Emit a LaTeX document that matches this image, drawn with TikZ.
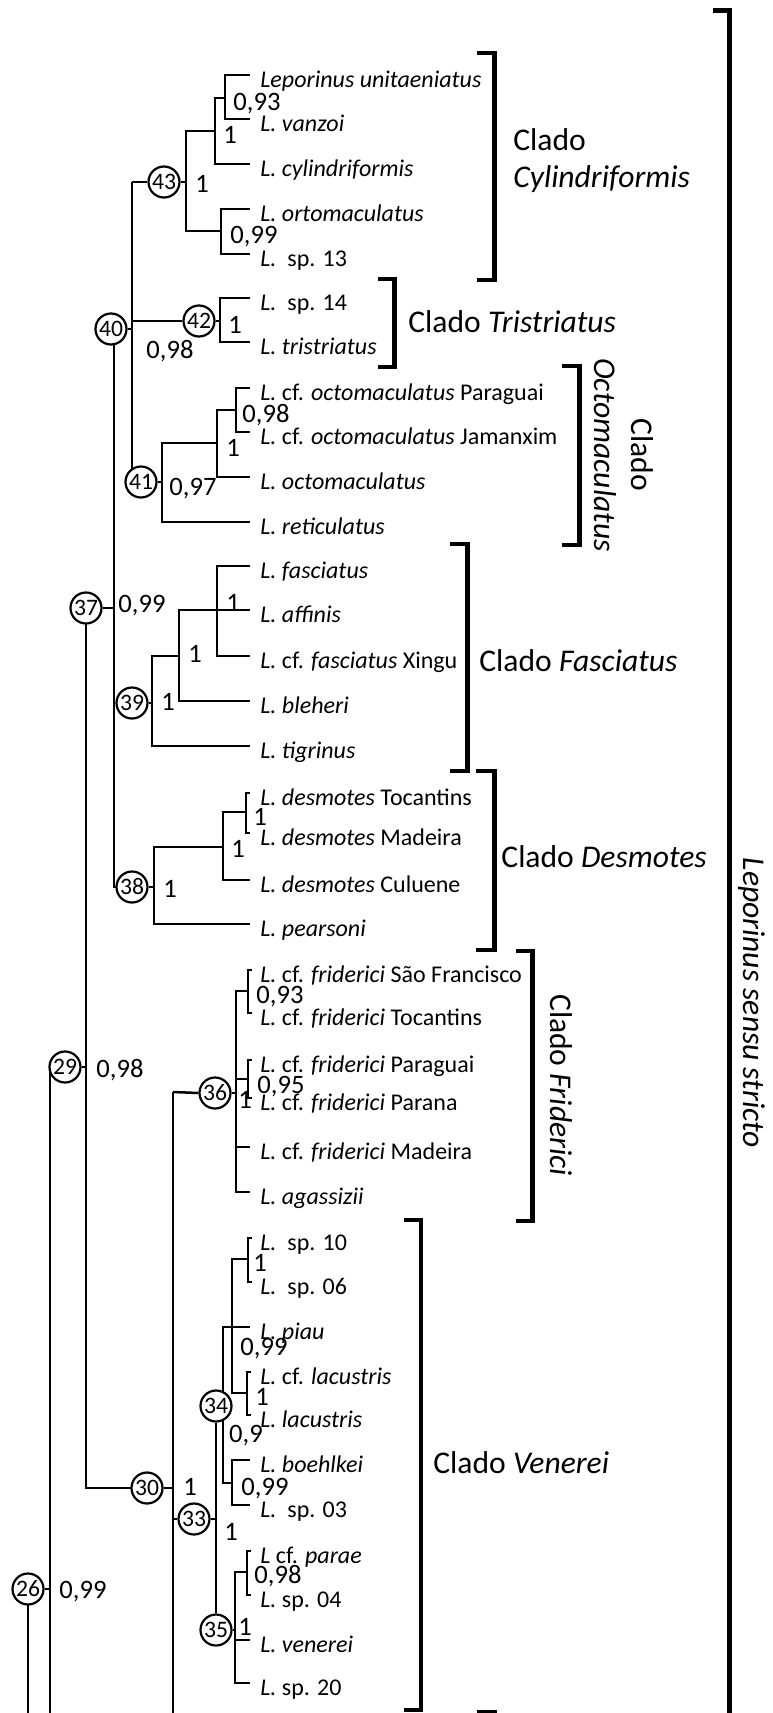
\documentclass[tikz,border=0pt]{standalone}
\usepackage{fontspec}
\setmainfont{Carlito}
\tikzset{
  br/.style={line width=1.25pt},
  brk/.style={line width=2.3pt, line cap=butt, line join=miter},
  leaf/.style={anchor=base west, inner sep=0pt, font=\fontsize{12}{14}\selectfont},
  num/.style={anchor=base, inner sep=0pt, font=\fontsize{13.3}{15}\selectfont},
  nd/.style={circle, draw, line width=1.1pt, fill=white, minimum size=15.5pt, inner sep=0pt, font=\fontsize{11.8}{12}\selectfont},
  clade/.style={inner sep=0pt, font=\fontsize{15.8}{18.5}\selectfont},
}
\newcommand{\lf}[3]{\node[leaf] (#1) at (260,#2+12) {#3};}
\begin{document}
\begin{tikzpicture}[x=0.5pt,y=-0.5pt]
\useasboundingbox (0,0) rectangle (772,1713);

% ---------- leaves ----------
\lf{lu}{75}{\textit{Leporinus unitaeniatus}}
\lf{lv}{119}{\textit{L. vanzoi}}
\lf{lc}{164}{\textit{L. cylindriformis}}
\lf{lo}{209}{\textit{L. ortomaculatus}}
\lf{s13}{254}{\textit{L.}\ \ sp. 13}
\lf{s14}{298}{\textit{L.}\ \ sp. 14}
\lf{lt}{342}{\textit{L. tristriatus}}
\lf{op}{388}{\textit{L.} cf. \textit{octomaculatus} Paraguai}
\lf{oj}{432}{\textit{L.} cf. \textit{octomaculatus} Jamanxim}
\lf{oc}{477}{\textit{L. octomaculatus}}
\lf{re}{522}{\textit{L. reticulatus}}
\lf{fa}{566}{\textit{L. fasciatus}}
\lf{af}{610}{\textit{L. affinis}}
\lf{fx}{656}{\textit{L.} cf. \textit{fasciatus} Xingu}
\lf{bl}{701}{\textit{L. bleheri}}
\lf{ti}{746}{\textit{L. tigrinus}}
\lf{dt}{793}{\textit{L. desmotes} Tocantins}
\lf{dm}{833}{\textit{L. desmotes} Madeira}
\lf{dc}{880}{\textit{L. desmotes} Culuene}
\lf{pe}{924}{\textit{L. pearsoni}}
\lf{fs}{970}{\textit{L.} cf. \textit{friderici} São Francisco}
\lf{ft}{1013}{\textit{L.} cf. \textit{friderici} Tocantins}
\lf{fp}{1060}{\textit{L.} cf. \textit{friderici} Paraguai}
\lf{fn}{1098}{\textit{L.} cf. \textit{friderici} Parana}
\lf{fm}{1147}{\textit{L.} cf. \textit{friderici} Madeira}
\lf{ag}{1192}{\textit{L. agassizii}}
\lf{s10}{1238}{\textit{L.}\ \ sp. 10}
\lf{s06}{1282}{\textit{L.}\ \ sp. 06}
\lf{pi}{1327}{\textit{L. piau}}
\lf{cl}{1372}{\textit{L.} cf. \textit{lacustris}}
\lf{la}{1415}{\textit{L. lacustris}}
\lf{bo}{1460}{\textit{L. boehlkei}}
\lf{s03}{1505}{\textit{L.}\ \ sp. 03}
\lf{pa}{1551}{\textit{L} cf. \textit{parae}}
\lf{s04}{1595}{\textit{L.} sp. 04}
\lf{ve}{1640}{\textit{L. venerei}}
\lf{s20}{1683}{\textit{L.} sp. 20}

% ---------- branches drawn beneath circles ----------
% Cylindriformis
\draw[br] (250,75) -| (225,119) -- (250,119);
\draw[br] (225,98) -| (215,164) -- (250,164);
\draw[br] (215,131) -| (186,231) -- (221,231);
\draw[br] (250,209) -| (221,254) -- (250,254);
% Tristriatus
\draw[br] (250,298) -| (220,342) -- (250,342);
% Octomaculatus
\draw[br] (250,388) -| (236,432) -- (250,432);
\draw[br] (236,410) -| (217,477) -- (250,477);
\draw[br] (217,443) -| (162,522) -- (250,522);
% main verticals
\draw[br] (132,182) -- (132,472);
\draw[br] (114,335) -- (114,887) -- (118,887);
% Fasciatus
\draw[br] (250,566) -| (217,656) -- (250,656);
\draw[br] (217,610) -- (250,610);
\draw[br] (217,610) -| (179,701) -- (250,701);
\draw[br] (179,656) -| (152,746) -- (250,746);
% Desmotes
\draw[br] (250,793) -| (246,833) -- (250,833);
\draw[br] (246,812) -| (223,880) -- (250,880);
\draw[br] (223,847) -| (154,924) -- (250,924);
% deeper verticals
\draw[br] (86,608) -- (86,1488) -- (135,1488);
\draw[br] (50,1070) -- (50,1713);
\draw[br] (28,1595) -- (28,1713);
\draw[br] (173,1092) -- (173,1713);
% Friderici
\draw[br] (252,970) -| (248,1013) -- (252,1013);
\draw[br] (252,1060) -| (248,1098) -- (252,1098);
\draw[br] (248,991) -| (236,1192) -- (250,1192);
\draw[br] (236,1079) -- (248,1079);
\draw[br] (236,1147) -- (250,1147);
% Venerei
\draw[br] (252,1238) -| (248,1282) -- (252,1282);
\draw[br] (251,1372) -| (247,1415) -- (251,1415);
\draw[br] (248,1259) -| (232,1393) -- (247,1393);
\draw[br] (250,1327) -| (223,1483) -- (232,1483);
\draw[br] (250,1460) -| (232,1505) -- (250,1505);
\draw[br] (251,1551) -| (247,1595) -- (251,1595);
\draw[br] (247,1572) -| (235,1683) -- (250,1683);
\draw[br] (235,1640) -- (250,1640);

% ---------- numbered nodes ----------
\node[nd] (c43) at (164,182) {43};
\node[nd] (c40) at (111,329) {40};
\node[nd] (c42) at (199,321) {42};
\node[nd] (c41) at (141,482) {41};
\node[nd] (c37) at (86,608) {37};
\node[nd] (c39) at (132,703) {39};
\node[nd] (c38) at (132,887) {38};
\node[nd] (c29) at (65,1067) {29};
\node[nd] (c36) at (215,1093) {36};
\node[nd] (c30) at (147,1488) {30};
\node[nd] (c33) at (194,1519) {33};
\node[nd] (c34) at (216,1406) {34};
\node[nd] (c35) at (216,1630) {35};
\node[nd] (c26) at (28,1589) {26};

% ---------- connectors to nodes ----------
\draw[br] (132,182) -- (c43.west);
\draw[br] (c43.east) -- (186,182);
\draw[br] (c40.east) -- (132,329);
\draw[br] (132,321) -- (c42.west);
\draw[br] (c42.east) -- (220,321);
\draw[br] (c41.east) -- (162,482);
\draw[br] (c37.east) -- (114,608);
\draw[br] (114,703) -- (c39.west);
\draw[br] (c39.east) -- (152,703);
\draw[br] (c38.east) -- (154,887);
\draw[br] (c29.east) -- (86,1067);
\draw[br] (c26.east) -- (50,1589);
\draw[br] (c30.east) -- (173,1488);
\draw[br] (173,1092) -- (c36.west);
\draw[br] (c36.east) -- (236,1093);
\draw[br] (173,1519) -- (c33.west);
\draw[br] (c33.east) -- (216,1519);
\draw[br] (c34.south) -- (c35.north);
\draw[br] (c35.east) -- (235,1630);

% ---------- support values ----------
\node[num] (p1) at (257,110) {0,93};
\node[num] (p2) at (230,143) {1};
\node[num] (p3) at (202,192) {1};
\node[num] (p4) at (254,243) {0,99};
\node[num] (p5) at (170,358) {0,98};
\node[num] (p6) at (235,333) {1};
\node[num] (p7) at (266,422) {0,98};
\node[num] (p8) at (233,456) {1};
\node[num] (p9) at (193,495) {0,97};
\node[num] (p10) at (142,612) {0,99};
\node[num] (p11) at (233,611) {1};
\node[num] (p12) at (195,662) {1};
\node[num] (p13) at (168,710) {1};
\node[num] (p14) at (260,825) {1};
\node[num] (p15) at (238,857) {1};
\node[num] (p16) at (170,897) {1};
\node[num] (p17) at (280,1003) {0,93};
\node[num] (p18) at (120,1077) {0,98};
\node[num] (p19) at (281,1093) {0,95};
\node[num] (p20) at (245,1108) {1};
\node[num] (p21) at (260,1271) {1};
\node[num] (p22) at (264,1355) {0,99};
\node[num] (p23) at (262,1405) {1};
\node[num] (p24) at (246,1442) {0,9};
\node[num] (p25) at (265,1495) {0,99};
\node[num] (p26) at (190,1495) {1};
\node[num] (p27) at (231,1540) {1};
\node[num] (p28) at (278,1583) {0,98};
\node[num] (p29) at (245,1635) {1};
\node[num] (p30) at (83,1598) {0,99};

% ---------- clade brackets ----------
\draw[brk] (477,53) -- (494.5,53) -- (494.5,280) -- (477,280);
\draw[brk] (378,279) -- (394.5,279) -- (394.5,367) -- (378,367);
\draw[brk] (562,366) -- (579.5,366) -- (579.5,545) -- (562,545);
\draw[brk] (450,544) -- (467.5,544) -- (467.5,771) -- (450,771);
\draw[brk] (476,771) -- (494.5,771) -- (494.5,950) -- (476,950);
\draw[brk] (516,951) -- (532.5,951) -- (532.5,1221) -- (516,1221);
\draw[brk] (404,1220) -- (421,1220) -- (421,1710) -- (404,1710);
\draw[brk] (477,1712) -- (497,1712);
\draw[brk] (713,10.5) -- (729.5,10.5) -- (729.5,1713);

% ---------- clade labels ----------
\node[clade, anchor=west, align=left] (kcyl) at (513,161) {Clado\\\textit{Cylindriformis}};
\node[clade, anchor=west] (ktri) at (408,322) {Clado \textit{Tristriatus}};
\node[clade, rotate=-90, align=center] (koct) at (624,455) {Clado\\\textit{Octomaculatus}};
\node[clade, anchor=west] (kfas) at (479,661) {Clado \textit{Fasciatus}};
\node[clade, anchor=west] (kdes) at (501,857) {Clado \textit{Desmotes}};
\node[clade, rotate=-90] (kfri) at (561,1085) {Clado \textit{Friderici}};
\node[clade, anchor=west] (kven) at (433,1463) {Clado \textit{Venerei}};
\node[clade, rotate=-90] (klss) at (752,1003) {\textit{Leporinus sensu stricto}};
\end{tikzpicture}
\end{document}
